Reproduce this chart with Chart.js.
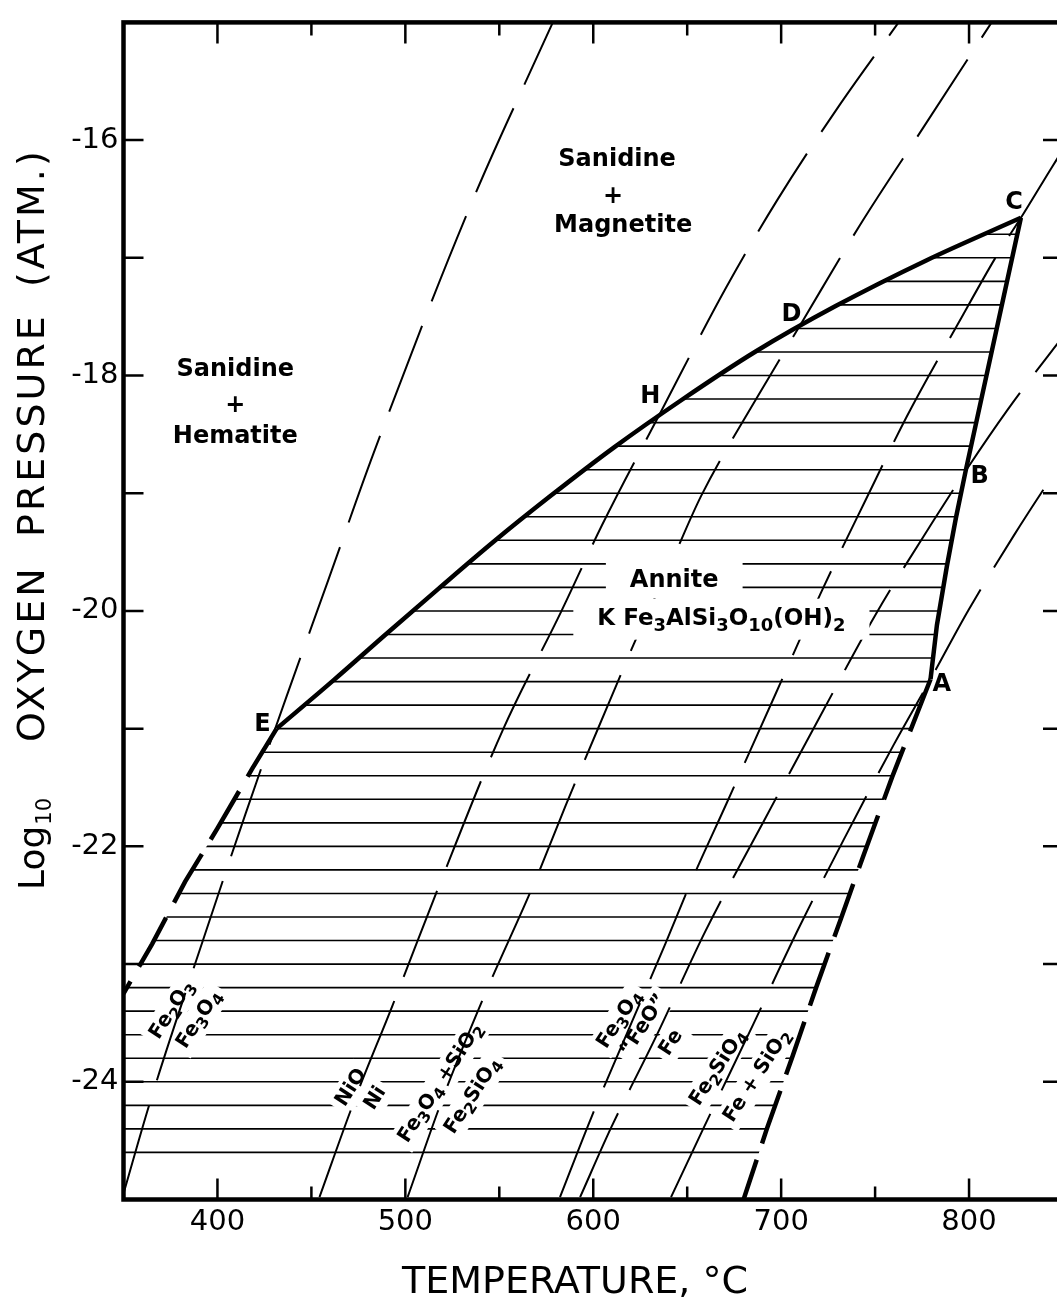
<!DOCTYPE html>
<html>
<head>
<meta charset="utf-8">
<title>Annite stability field</title>
<script src="https://cdn.jsdelivr.net/npm/chart.js@4.4.1/dist/chart.umd.min.js"></script>
<style>
  html, body { margin: 0; padding: 0; background: #fff; overflow: hidden; }
  canvas { display: block; }
</style>
</head>
<body>
<canvas id="annite" width="1070" height="1300"></canvas>
<script>
// temperature (°C) and log10 fO2 (atm)

// oxygen buffer curves
const hmT    = [350, 364, 393.5, 414.8, 436.7, 458.5, 483.1, 534.8, 578.5];
const hmLog  = [-24.95, -24.18, -22.74, -21.73, -20.73, -19.76, -18.66, -16.55, -15.0];
const nnoT   = [454.3, 472.4, 493.2, 518.8, 551.9, 582.8, 604.7, 635.6, 670.8, 697.9, 731.6, 762.5];
const nnoLog = [-24.98, -24.18, -23.35, -22.3, -21.01, -20.01, -19.27, -18.32, -17.25, -16.51, -15.69, -15.0];
const fmqT   = [501.2, 519.9, 541.2, 568.9, 585.4, 607.3, 624.9, 640.9, 657.5, 687.8, 710.2, 742.8, 775.8, 812];
const fmqLog = [-24.98, -24.14, -23.3, -22.3, -21.65, -20.82, -20.16, -19.61, -19.02, -18.17, -17.57, -16.7, -15.89, -15.0];
const mwT    = [582.3, 598.8, 638.3, 652.1, 670.8, 696.9, 722.5, 744.9, 766.8, 794.5, 815.9, 827.6, 844.1, 850];
const mwLog  = [-24.98, -24.31, -22.83, -22.3, -21.64, -20.71, -19.8, -19.06, -18.35, -17.55, -16.95, -16.66, -16.23, -16.08];
const wiT    = [593, 609.5, 633.6, 659.7, 690.6, 719.9, 750.3, 781.2, 798.2, 820.1, 844.1, 850];
const wiLog  = [-24.98, -24.39, -23.61, -22.72, -21.79, -20.92, -20.03, -19.23, -18.81, -18.3, -17.79, -17.67];
const qfiT   = [641.4, 658.5, 685.2, 709.2, 734.7, 759.8, 779.5, 799.8, 823.8, 844.1, 850];
const qfiLog = [-24.98, -24.4, -23.51, -22.7, -21.9, -21.14, -20.58, -19.99, -19.36, -18.86, -18.72];

// annite field boundary: E-H-D-C (solid), C-B-A (solid), A-down and E-down (dashed)
const upperT   = [431.5, 461.7, 489.5, 517.7, 547.1, 577.5, 611.1, 646.8, 686, 729, 777.5, 827.6];
const upperLog = [-21.0, -20.59, -20.2, -19.81, -19.41, -19.02, -18.61, -18.21, -17.8, -17.41, -17.02, -16.66];
const rightT   = [827.6, 798.2, 793, 788.2, 782.9, 779.5];
const rightLog = [-16.66, -18.81, -19.21, -19.62, -20.12, -20.58];
const lowT     = [779.5, 759.1, 744.2, 731.9, 718.6, 705.7, 692.4, 680];
const lowLog   = [-20.58, -21.41, -22.06, -22.61, -23.2, -23.8, -24.4, -25.0];
const leftT    = [431.5, 418.5, 399.9, 382.8, 365.2, 350];
const leftLog  = [-21.0, -21.34, -21.85, -22.3, -22.83, -23.25];

// invariant points
const pointNames = ['C', 'D', 'H', 'B', 'A', 'E'];
const pointT     = [823.9, 705.5, 630.3, 805.7, 785.5, 423.9];
const pointLog   = [-16.53, -17.48, -18.18, -18.86, -20.63, -20.97];

// field names
const fieldText = ['Sanidine', '+', 'Hematite', 'Sanidine', '+', 'Magnetite'];
const fieldT    = [409.5, 409.5, 409.5, 612.7, 610.5, 615.9];
const fieldLog  = [-17.95, -18.26, -18.52, -16.17, -16.48, -16.73];

// buffer names along the lines ('_' starts a subscript)
const bufText = ['Fe_2O_3', 'Fe_3O_4', 'NiO', 'Ni', 'Fe_3O_4 +SiO_2', 'Fe_2SiO_4',
                 'Fe_3O_4', '“FeO”', 'Fe', 'Fe_2SiO_4', 'Fe + SiO_2'];
const bufT    = [375.9, 390.3, 471.3, 484.1, 518.8, 535.9, 614.1, 626.9, 641.5, 666.5, 687.3];
const bufLog  = [-23.39, -23.47, -24.05, -24.14, -24.01, -24.12, -23.47, -23.52, -23.67, -23.88, -23.95];

const FONT = '"DejaVu Sans"';
const fontOf = (size, bold) => (bold ? 'bold ' : '') + size + 'px ' + FONT;

function richParts(s) {
  const out = [];
  let i = 0;
  while (i < s.length) {
    if (s[i] === '_') {
      let j = i + 1;
      while (j < s.length && /[0-9]/.test(s[j])) j++;
      out.push([s.slice(i + 1, j), true]);
      i = j;
    } else {
      let j = i;
      while (j < s.length && s[j] !== '_') j++;
      out.push([s.slice(i, j), false]);
      i = j;
    }
  }
  return out;
}

function richWidth(ctx, parts, size) {
  let w = 0;
  for (const [txt, sub] of parts) {
    ctx.font = fontOf(sub ? size * 0.78 : size, true);
    w += ctx.measureText(txt).width;
  }
  return w;
}

function drawRich(ctx, parts, x, y, size) {
  ctx.textAlign = 'left';
  ctx.textBaseline = 'middle';
  let cx = x;
  for (const [txt, sub] of parts) {
    ctx.font = fontOf(sub ? size * 0.78 : size, true);
    ctx.fillText(txt, cx, sub ? y + size * 0.3 : y);
    cx += ctx.measureText(txt).width;
  }
}

// draws a label (or only its white backing box) at a data position
function note(chart, text, t, l, size, angle, box, padX, padY) {
  const ctx = chart.ctx;
  const px = chart.scales.x.getPixelForValue(t);
  const py = chart.scales.y.getPixelForValue(l);
  const parts = richParts(text);
  const w = richWidth(ctx, parts, size);
  ctx.save();
  ctx.translate(px, py);
  ctx.rotate(angle);
  if (box) {
    ctx.fillStyle = '#fff';
    ctx.fillRect(-w / 2 - padX, -size * 0.5 - padY, w + 2 * padX, size + 2 * padY);
  } else {
    ctx.fillStyle = '#000';
    drawRich(ctx, parts, -w / 2, 0, size);
  }
  ctx.restore();
}

const TILT = -57 * Math.PI / 180;

const figurePlugin = {
  id: 'figure',
  beforeDatasetsDraw(chart) {
    const { ctx, chartArea: a, scales: { x, y } } = chart;
    // horizontal hatching of the annite field
    const ring = [];
    upperT.forEach((t, i) => ring.push([t, upperLog[i]]));
    rightT.slice(1).forEach((t, i) => ring.push([t, rightLog[i + 1]]));
    lowT.slice(1).forEach((t, i) => ring.push([t, lowLog[i + 1]]));
    ring.push([350, -25]);
    for (let i = leftT.length - 1; i > 0; i--) ring.push([leftT[i], leftLog[i]]);
    ctx.save();
    ctx.beginPath();
    ring.forEach(([t, l], i) => {
      const px = x.getPixelForValue(t), py = y.getPixelForValue(l);
      if (i) ctx.lineTo(px, py); else ctx.moveTo(px, py);
    });
    ctx.closePath();
    ctx.clip();
    ctx.strokeStyle = '#000';
    ctx.lineWidth = 1.6;
    for (let k = 0; k < 40; k++) {
      const py = y.getPixelForValue(-24.6 + 0.2 * k);
      ctx.beginPath();
      ctx.moveTo(a.left, py);
      ctx.lineTo(a.right, py);
      ctx.stroke();
    }
    ctx.restore();
    // gaps in the hatching behind the buffer names
    bufText.forEach((s, i) => note(chart, s, bufT[i], bufLog[i], 20, TILT, true, 5, 4));
  },
  afterDatasetsDraw(chart) {
    note(chart, 'Annite', 643.1, -19.74, 24, 0, true, 24, 6);
    note(chart, 'K Fe_3AlSi_3O_10(OH)_2', 668.2, -20.07, 23, 0, true, 24, 9);
    note(chart, 'Annite', 643.1, -19.74, 24, 0, false);
    note(chart, 'K Fe_3AlSi_3O_10(OH)_2', 668.2, -20.07, 23, 0, false);
    fieldText.forEach((s, i) => note(chart, s, fieldT[i], fieldLog[i], 24, 0, false));
    pointNames.forEach((s, i) => note(chart, s, pointT[i], pointLog[i], 24, 0, false));
    bufText.forEach((s, i) => note(chart, s, bufT[i], bufLog[i], 20, TILT, false));
  },
  afterDraw(chart) {
    const { ctx, chartArea: a, scales: { x, y } } = chart;
    ctx.save();
    ctx.strokeStyle = '#000';
    ctx.fillStyle = '#000';
    // inward ticks on all four sides
    ctx.lineWidth = 2.5;
    x.ticks.forEach(tk => {
      if (tk.value <= x.min || tk.value >= x.max) return;
      const px = x.getPixelForValue(tk.value);
      const len = tk.value % 100 === 0 ? 21 : 13;
      ctx.beginPath();
      ctx.moveTo(px, a.top); ctx.lineTo(px, a.top + len);
      ctx.moveTo(px, a.bottom); ctx.lineTo(px, a.bottom - len);
      ctx.stroke();
    });
    y.ticks.forEach(tk => {
      if (tk.value <= y.min || tk.value >= y.max) return;
      const py = y.getPixelForValue(tk.value);
      ctx.beginPath();
      ctx.moveTo(a.left, py); ctx.lineTo(a.left + 20, py);
      ctx.moveTo(a.right, py); ctx.lineTo(a.right - 20, py);
      ctx.stroke();
    });
    ctx.lineWidth = 4.5;
    ctx.strokeRect(a.left, a.top, a.right - a.left, a.bottom - a.top);

    // axis titles
    ctx.font = '38px ' + FONT;
    ctx.textAlign = 'center';
    ctx.textBaseline = 'alphabetic';
    ctx.fillText('TEMPERATURE, °C', 575, 1293);

    ctx.translate(44, 0);
    ctx.rotate(-Math.PI / 2);
    ctx.textAlign = 'left';
    ctx.font = '36px ' + FONT;
    ctx.fillText('Log', -890, 0);
    const lw = ctx.measureText('Log').width;
    ctx.font = '21px ' + FONT;
    ctx.fillText('10', -890 + lw + 1, 7);
    ctx.font = '38px ' + FONT;
    ctx.letterSpacing = '3px';
    ctx.fillText('OXYGEN', -742, 0);
    ctx.fillText('PRESSURE', -537, 0);
    ctx.fillText('(ATM.)', -287, 0);
    ctx.restore();
  }
};

const toPoints = (ts, ls) => ts.map((t, i) => ({ x: t, y: ls[i] }));
const bufferLine = (ts, ls) => ({
  data: toPoints(ts, ls), borderColor: '#000', borderWidth: 2,
  borderDash: [92, 26], cubicInterpolationMode: 'monotone', pointRadius: 0, fill: false
});
const boundary = (ts, ls, dashed, smooth) => ({
  data: toPoints(ts, ls), borderColor: '#000', borderWidth: 4.5,
  borderDash: dashed ? [56, 17] : [], tension: 0,
  cubicInterpolationMode: smooth ? 'monotone' : 'default', pointRadius: 0, fill: false
});

new Chart(document.getElementById('annite'), {
  type: 'line',
  data: {
    datasets: [
      bufferLine(hmT, hmLog),
      bufferLine(nnoT, nnoLog),
      bufferLine(fmqT, fmqLog),
      bufferLine(mwT, mwLog),
      bufferLine(wiT, wiLog),
      bufferLine(qfiT, qfiLog),
      boundary(upperT, upperLog, false, true),
      boundary(rightT, rightLog, false, false),
      boundary(lowT, lowLog, true, false),
      boundary(leftT, leftLog, true, false)
    ]
  },
  options: {
    responsive: false,
    animation: false,
    events: [],
    layout: { padding: { top: 17, right: 7, left: 0, bottom: 0 } },
    plugins: { legend: { display: false }, tooltip: { enabled: false } },
    scales: {
      x: {
        type: 'linear', min: 350, max: 850,
        grid: { display: false, drawTicks: false },
        border: { display: false },
        ticks: {
          stepSize: 50, padding: 6, color: '#000', maxRotation: 0, autoSkip: false,
          font: { family: 'DejaVu Sans', size: 29 },
          callback: v => (v % 100 === 0 && v > 350 && v < 850) ? v : ''
        },
        afterFit: s => { s.height = 100.5; }
      },
      y: {
        type: 'linear', min: -25, max: -15,
        grid: { display: false, drawTicks: false },
        border: { display: false },
        ticks: {
          stepSize: 1, padding: 5, color: '#000', autoSkip: false,
          font: { family: 'DejaVu Sans', size: 29 },
          callback: v => (v % 2 === 0 && v > -25 && v < -15) ? v : ''
        },
        afterFit: s => { s.width = 123.5; }
      }
    }
  },
  plugins: [figurePlugin]
});
</script>
</body>
</html>
